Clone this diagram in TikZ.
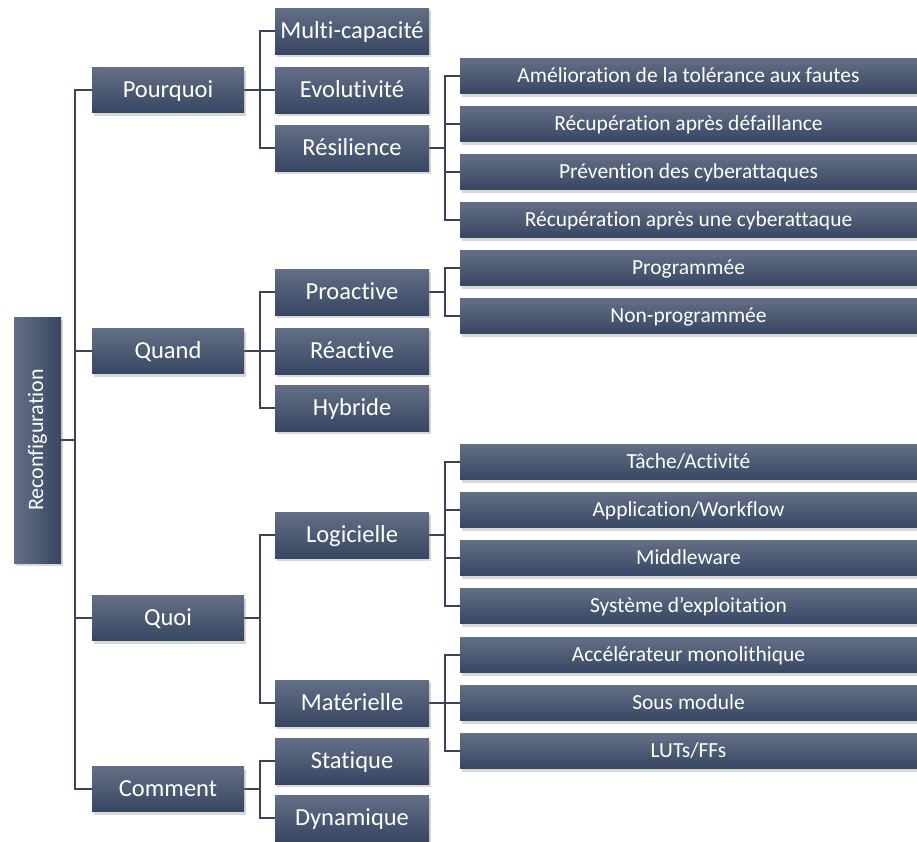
\documentclass[tikz,border=0pt]{standalone}
\usepackage{fontspec}
\setmainfont{Carlito}[Ligatures=CommonOff]
\usetikzlibrary{shadows,backgrounds}
\definecolor{boxtop}{RGB}{99,111,134}
\definecolor{boxbot}{RGB}{55,70,98}
\definecolor{wirecol}{RGB}{58,68,86}

\begin{document}
\begin{tikzpicture}[x=1pt,y=-1pt,
  box/.style={rectangle, inner sep=0pt, text=white,
    top color=boxtop, bottom color=boxbot,
    drop shadow={shadow xshift=1.5pt, shadow yshift=-3pt, opacity=0.3}},
  rootbox/.style={box, left color=boxtop, right color=boxbot,
    minimum width=47pt, minimum height=246pt,
    font=\fontsize{22}{26}\selectfont},
  lvone/.style={box, minimum width=152pt, minimum height=45pt,
    text height=15.6pt, text depth=0pt,
    font=\fontsize{24.5}{28}\selectfont},
  lvtwo/.style={box, minimum width=154pt, minimum height=46pt,
    text height=15.6pt, text depth=0pt,
    font=\fontsize{24.5}{28}\selectfont},
  leaf/.style={box, minimum width=457pt, minimum height=35pt,
    text height=13.8pt, text depth=0pt,
    font=\fontsize{21.5}{25}\selectfont},
  wire/.style={draw=wirecol, line width=1.5pt}
]
\useasboundingbox (0,0) rectangle (917,841);

% root
\node[rootbox] (root) at (37.5,440) {\rotatebox{90}{Reconfiguration}};

% first level
\node[lvone] (why)  at (168,90)  {Pourquoi};
\node[lvone] (when) at (168,351) {Quand};
\node[lvone] (what) at (168,618) {Quoi};
\node[lvone] (how)  at (168,789) {Comment};

% second level
\node[lvtwo] (mcap)  at (352,31)  {Multi-capacité};
\node[lvtwo] (evol)  at (352,90)  {Evolutivité};
\node[lvtwo] (resil) at (352,148) {Résilience};
\node[lvtwo] (proa)  at (352,292) {Proactive};
\node[lvtwo] (reac)  at (352,351) {Réactive};
\node[lvtwo] (hyb)   at (352,408) {Hybride};
\node[lvtwo] (logi)  at (352,535) {Logicielle};
\node[lvtwo] (mate)  at (352,703) {Matérielle};
\node[lvtwo] (stat)  at (352,761) {Statique};
\node[lvtwo] (dyna)  at (352,818) {Dynamique};

% third level
\node[leaf] (ftol)  at (688.5,76)  {Amélioration de la tolérance aux fautes};
\node[leaf] (rfail) at (688.5,124) {Récupération après défaillance};
\node[leaf] (prev)  at (688.5,172) {Prévention des cyberattaques};
\node[leaf] (rcyb)  at (688.5,220) {Récupération après une cyberattaque};
\node[leaf] (prog)  at (688.5,268) {Programmée};
\node[leaf] (nprog) at (688.5,316) {Non-programmée};
\node[leaf] (task)  at (688.5,462) {Tâche/Activité};
\node[leaf] (appl)  at (688.5,510) {Application/Workflow};
\node[leaf] (midw)  at (688.5,558) {Middleware};
\node[leaf] (osys)  at (688.5,606) {Système d’exploitation};
\node[leaf] (accel) at (688.5,655) {Accélérateur monolithique};
\node[leaf] (smod)  at (688.5,703) {Sous module};
\node[leaf] (luts)  at (688.5,751) {LUTs/FFs};

% white page, then the elbow connectors behind the boxes
\begin{scope}[on background layer]
  \fill[white] (0,0) rectangle (917,841);
  \foreach \c in {why,when,what,how}
    \draw[wire] (\c.west) -- ++(-17,0) |- (root.east);
  \foreach \c in {mcap,evol,resil}
    \draw[wire] (\c.west) -- ++(-15,0) |- (why.east);
  \foreach \c in {proa,reac,hyb}
    \draw[wire] (\c.west) -- ++(-15,0) |- (when.east);
  \foreach \c in {logi,mate}
    \draw[wire] (\c.west) -- ++(-15,0) |- (what.east);
  \foreach \c in {stat,dyna}
    \draw[wire] (\c.west) -- ++(-15,0) |- (how.east);
  \foreach \c in {ftol,rfail,prev,rcyb}
    \draw[wire] (\c.west) -- ++(-15,0) |- (resil.east);
  \foreach \c in {prog,nprog}
    \draw[wire] (\c.west) -- ++(-15,0) |- (proa.east);
  \foreach \c in {task,appl,midw,osys}
    \draw[wire] (\c.west) -- ++(-15,0) |- (logi.east);
  \foreach \c in {accel,smod,luts}
    \draw[wire] (\c.west) -- ++(-15,0) |- (mate.east);
\end{scope}
\end{tikzpicture}
\end{document}
